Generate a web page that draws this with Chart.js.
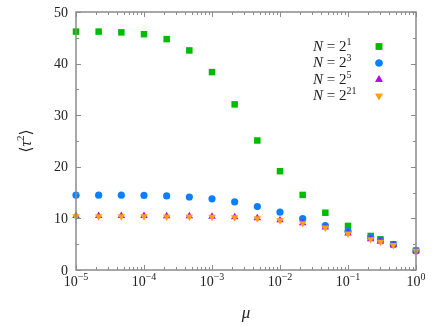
<!DOCTYPE html>
<html>
<head>
<meta charset="utf-8">
<script src="https://cdn.jsdelivr.net/npm/chart.js@4"></script>
<style>
html,body{margin:0;padding:0;background:#fff;}
#wrap{width:436px;height:327px;}
</style>
</head>
<body>
<div id="wrap"><canvas id="c" width="436" height="327"></canvas></div>
<script>
const muValues = [1e-5, 2.154e-5, 4.642e-5, 1e-4, 2.154e-4, 4.642e-4, 1e-3, 2.154e-3, 4.642e-3, 1e-2, 2.154e-2, 4.642e-2, 1e-1, 0.2154, 0.3, 0.4642, 1];
const tauN1  = [46.2, 46.2, 46.05, 45.7, 44.75, 42.55, 38.35, 32.1, 25.1, 19.15, 14.55, 11.1, 8.55, 6.6, 5.95, 5.0, 3.75];
const tauN3  = [14.5, 14.5, 14.5, 14.45, 14.35, 14.15, 13.8, 13.2, 12.3, 11.2, 9.95, 8.6, 7.5, 6.3, 5.8, 4.9, 3.75];
const tauN5  = [10.5, 10.5, 10.5, 10.5, 10.45, 10.45, 10.35, 10.25, 10.05, 9.65, 9.1, 8.25, 7.1, 6.0, 5.5, 4.85, 3.75];
const tauN21 = [10.4, 10.4, 10.4, 10.4, 10.35, 10.35, 10.3, 10.2, 10.0, 9.6, 9.05, 8.2, 7.05, 5.95, 5.45, 4.8, 3.7];
const seriesExponents = ['1', '3', '5', '21'];
const yTickValues = [0, 10, 20, 30, 40, 50];
const xTickExponents = [-5, -4, -3, -2, -1, 0];

const SERIF = '"Liberation Serif", "DejaVu Serif", serif';
const AXIS_COLOR = '#8a8a8a';

function pts(ys){ return muValues.map((x,i)=>({x:x, y:ys[i]})); }

const styles = [
  {color:'#00bb00', shape:'rect', radius:4.6, rot:0},
  {color:'#0a80ff', shape:'circle', radius:3.6, rot:0},
  {color:'#bb00ee', shape:'triangle', radius:4.3, rot:0},
  {color:'#ffa010', shape:'triangle', radius:4.3, rot:180}
];
const allSeries = [tauN1, tauN3, tauN5, tauN21];

const datasets = allSeries.map((ys,i)=>({
  label: 'N = 2^' + seriesExponents[i],
  data: pts(ys),
  showLine: false,
  clip: false,
  pointStyle: styles[i].shape,
  pointRadius: styles[i].radius,
  pointRotation: styles[i].rot,
  pointBackgroundColor: styles[i].color,
  pointBorderColor: styles[i].color,
  pointBorderWidth: 0,
  order: 3 - i
}));

function drawPieces(ctx, pieces, x, y, align){
  let total = 0;
  pieces.forEach(p=>{
    ctx.font = (p.italic?'italic ':'') + p.size + 'px ' + SERIF;
    p.w = ctx.measureText(p.t).width;
    total += p.w;
  });
  let cx = align==='center' ? x - total/2 : (align==='right' ? x - total : x);
  ctx.textAlign = 'left';
  ctx.textBaseline = 'alphabetic';
  pieces.forEach(p=>{
    ctx.font = (p.italic?'italic ':'') + p.size + 'px ' + SERIF;
    ctx.fillText(p.t, cx, y + (p.dy||0));
    cx += p.w;
  });
}

const decor = {
  id:'decor',
  afterDraw(chart){
    const ctx = chart.ctx;
    const xs = chart.scales.x, ys = chart.scales.y;
    const a = chart.chartArea;
    ctx.save();
    ctx.strokeStyle = AXIS_COLOR;
    ctx.lineWidth = 1.5;
    ctx.strokeRect(a.left, a.top, a.right-a.left, a.bottom-a.top);
    ctx.lineWidth = 1;
    for(let v=0; v<=50; v+=5){
      const py = Math.round(ys.getPixelForValue(v))+0.5;
      const len = (v%10===0)?5:3;
      ctx.beginPath();
      ctx.moveTo(a.left, py); ctx.lineTo(a.left+len, py);
      ctx.moveTo(a.right, py); ctx.lineTo(a.right-len, py);
      ctx.stroke();
    }
    for(let e=-5; e<=0; e++){
      for(let m=1; m<=9; m++){
        const v = m*Math.pow(10,e);
        if(v>1.0001) break;
        const px = Math.round(xs.getPixelForValue(v))+0.5;
        const len = (m===1)?5:3;
        ctx.beginPath();
        ctx.moveTo(px, a.bottom); ctx.lineTo(px, a.bottom-len);
        ctx.moveTo(px, a.top); ctx.lineTo(px, a.top+len);
        ctx.stroke();
      }
    }
    ctx.fillStyle = '#222';
    ctx.font = '14px ' + SERIF;
    ctx.textAlign = 'right';
    ctx.textBaseline = 'middle';
    yTickValues.forEach(v=>{
      ctx.fillText(String(v), a.left-8, ys.getPixelForValue(v)+1);
    });
    xTickExponents.forEach(e=>{
      const px = xs.getPixelForValue(Math.pow(10,e));
      const ex = e<0 ? '\u2212'+(-e) : String(e);
      drawPieces(ctx, [{t:'10', size:14},{t:ex, size:10, dy:-6}], px, a.bottom+16, 'center');
    });
    drawPieces(ctx, [{t:'\u03bc', size:17, italic:true}], (a.left+a.right)/2, a.bottom+48, 'center');
    ctx.save();
    ctx.translate(31, (a.top+a.bottom)/2);
    ctx.rotate(-Math.PI/2);
    drawPieces(ctx, [{t:'\u27e8', size:16},{t:'\u03c4', size:16, italic:true},{t:'2', size:11, dy:-7},{t:'\u27e9', size:16}], 0, 0, 'center');
    ctx.restore();
    const rowsY = [50.5, 67, 83.5, 100];
    const markX = 379;
    for(let i=0;i<4;i++){
      drawPieces(ctx, [{t:'N', size:15, italic:true},{t:' = 2', size:15},{t:seriesExponents[i], size:10, dy:-6}], 313, rowsY[i], 'left');
      ctx.fillStyle = styles[i].color;
      Chart.helpers.drawPoint(ctx, {pointStyle: styles[i].shape, radius: styles[i].radius, rotation: styles[i].rot, borderWidth:0}, markX, rowsY[i]-4);
      ctx.fill();
      ctx.fillStyle = '#222';
    }
    ctx.restore();
  }
};

new Chart(document.getElementById('c'), {
  type: 'scatter',
  data: { datasets },
  options: {
    responsive: false,
    animation: false,
    events: [],
    layout: { padding: { left: 76, right: 20, top: 12, bottom: 57 } },
    plugins: { legend: {display:false}, tooltip: {enabled:false} },
    scales: {
      x: {
        type: 'logarithmic', min: 1e-5, max: 1,
        grid: { display: false, drawTicks: false },
        border: { display: false },
        ticks: { display: false }
      },
      y: {
        type: 'linear', min: 0, max: 50,
        grid: { display: false, drawTicks: false },
        border: { display: false },
        ticks: { display: false }
      }
    }
  },
  plugins: [decor]
});
</script>
</body>
</html>
